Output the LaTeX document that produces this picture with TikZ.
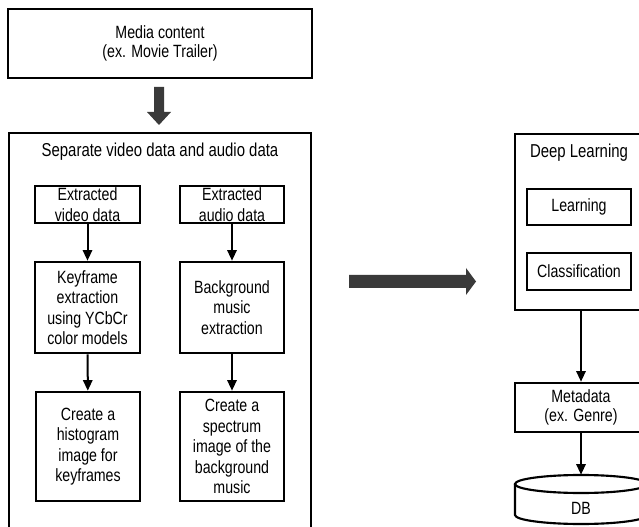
\documentclass[tikz,border=0pt]{standalone}
\usepackage{fontspec}
\setmainfont{Liberation Sans}[FakeStretch=0.8]
\usetikzlibrary{arrows.meta}
\def\pu{0.75pt}
\definecolor{bigarrow}{HTML}{3A3A3A}
\tikzset{
  box/.style={draw, line width=1.9pt, align=center, inner sep=0pt,
    font=\fontsize{13.3}{15.4}\selectfont},
  outer/.style={draw, line width=1.5pt, inner sep=0pt},
  titletext/.style={inner sep=0pt, font=\fontsize{14}{16}\selectfont},
  flow/.style={line width=1.5pt, -{Triangle[length=8pt,width=7pt]}}
}
\begin{document}
\begin{tikzpicture}[x=0.75pt,y=-0.75pt]
\useasboundingbox (0,0) rectangle (639,527);
\clip (0,0) rectangle (639,527);
\fill[white] (0,0) rectangle (639,527);

% top box
\node[box, line width=2.1pt, minimum width=304*\pu, minimum height=69*\pu,
  font=\fontsize{13.3}{14.3}\selectfont] (media) at (160,43.5)
  {Media content\\(ex. Movie Trailer)};

% thick down arrow
\fill[bigarrow] (154,87) -- (164,87) -- (164,112) -- (171,112) -- (159,125)
  -- (147,112) -- (154,112) -- cycle;

% big left box
\node[outer, minimum width=302*\pu, minimum height=427*\pu] (sep) at (160,346.5) {};
\node[titletext] (septitle) at (160,152) {Separate video data and audio data};

\node[box, minimum width=105*\pu, minimum height=37*\pu] (ev) at (87.5,204.5)
  {Extracted\\video data};
\node[box, minimum width=104*\pu, minimum height=37*\pu] (ea) at (232,204.5)
  {Extracted\\audio data};
\node[box, minimum width=105*\pu, minimum height=91*\pu] (kf) at (87.5,307.5)
  {Keyframe\\extraction\\using YCbCr\\color models};
\node[box, minimum width=104*\pu, minimum height=91*\pu] (bm) at (232,307.5)
  {Background\\music\\extraction};
\node[box, minimum width=104*\pu, minimum height=109*\pu] (hist) at (88,446.5)
  {Create a\\histogram\\image for\\keyframes};
\node[box, minimum width=104*\pu, minimum height=109*\pu] (spec) at (232,446.5)
  {Create a\\spectrum\\image of the\\background\\music};

\draw[flow] (ev) -- (kf);
\draw[flow] (ea) -- (bm);
\draw[flow] (kf) -- (hist);
\draw[flow] (bm) -- (spec);

% thick right arrow
\fill[bigarrow] (349,275) -- (466,275) -- (466,268) -- (476,281.5) -- (466,295)
  -- (466,288) -- (349,288) -- cycle;

% right column
\node[outer, minimum width=132*\pu, minimum height=176*\pu] (deep) at (581,222) {};
\node[titletext] (deeptitle) at (579,153) {Deep Learning};
\node[box, minimum width=104*\pu, minimum height=36*\pu] (learn) at (579,207) {Learning};
\node[box, minimum width=104*\pu, minimum height=37*\pu] (class) at (579,271.5) {Classification};

\node[box, minimum width=132*\pu, minimum height=49*\pu,
  font=\fontsize{13.3}{14}\selectfont] (meta) at (581,407.5)
  {Metadata\\(ex. Genre)};

% database cylinder
\node[inner sep=0pt, minimum width=132*\pu, minimum height=50*\pu] (db) at (581,500) {};
\draw[line width=1.6pt] (515,484) -- (515,515) arc[start angle=180, end angle=0,
  x radius=66, y radius=9] -- (647,484);
\draw[line width=1.6pt] (581,484) ellipse[x radius=66, y radius=9];
\node[box, draw=none] (dbtext) at (581,508) {DB};

\draw[flow] (deep) -- (meta);
\draw[flow] (meta) -- (db);
\end{tikzpicture}
\end{document}
